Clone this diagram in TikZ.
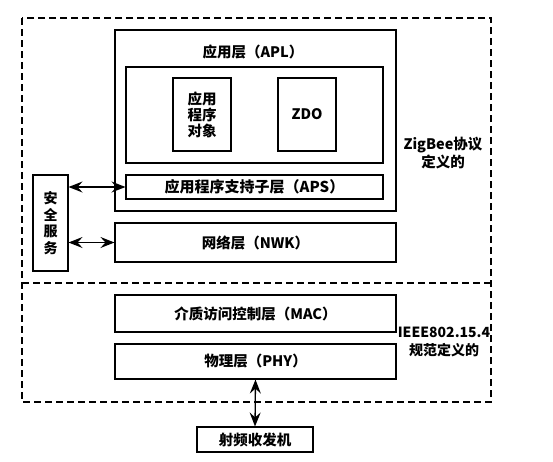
\documentclass[tikz,border=0pt]{standalone}
\usepackage{fontspec}
\setmainfont{Noto Sans CJK SC}
\usetikzlibrary{arrows.meta}
\begin{document}
\begin{tikzpicture}[x=1pt,y=-1pt,
  box/.style={draw,line width=1.1pt,inner sep=0pt},
  lbl/.style={font=\fontsize{14.5}{16}\selectfont\bfseries},
  dashframe/.style={line width=1.1pt,dash pattern=on 7pt off 4pt},
  biarrow/.style={line width=1.3pt,{Stealth[length=14pt,width=11pt,inset=5pt]}-{Stealth[length=14pt,width=11pt,inset=5pt]}}]
\useasboundingbox (0,0) rectangle (553,461);
% outer dashed frame
\draw[dashframe] (22,18) rectangle (491,402);
\coordinate (dl) at (22,283);
\coordinate (dr) at (491,283);
\draw[dashframe] (dl) -- (dr);
% APL
\draw[box] (115,30) rectangle (396,211);
\node[lbl] (apl) at (253,52) {应用层（APL）};
\draw[box] (126,67) rectangle (383,163);
\node[box,minimum width=58pt,minimum height=73pt,lbl,align=center] (obj) at (202,114.5) {应用\\程序\\对象};
\node[box,minimum width=58pt,minimum height=73pt,lbl] (zdo) at (307,114.5) {ZDO};
\node[box,minimum width=257pt,minimum height=24pt,lbl,font=\fontsize{15}{16}\selectfont\bfseries] (aps) at (254.5,187) {应用程序支持子层（APS）};
\node[box,minimum width=281pt,minimum height=39pt,lbl] (nwk) at (255.5,242.5) {网络层（NWK）};
\node[box,minimum width=35pt,minimum height=96pt,lbl,align=center,font=\fontsize{14}{16.5}\selectfont\bfseries] (sec) at (50.5,223) {安\\全\\服\\务};
\draw[biarrow] (sec.east |- aps.west) -- (aps.west);
\draw[biarrow] (sec.east |- nwk.west) -- (nwk.west);
\node[lbl,align=center] (zb) at (443,153) {ZigBee协议\\定义的};
% lower
\node[box,minimum width=281pt,minimum height=37pt,lbl] (mac) at (255.5,313.5) {介质访问控制层（MAC）};
\node[box,minimum width=281pt,minimum height=35pt,lbl] (phy) at (255.5,361.5) {物理层（PHY）};
\node[lbl,align=center,font=\fontsize{14}{18}\selectfont\bfseries] (ieee) at (444,342) {IEEE802.15.4\\规范定义的};
\node[box,minimum width=116pt,minimum height=25pt,lbl] (rf) at (255,439.5) {射频收发机};
\draw[biarrow] (phy.south) -- (rf.north);
\end{tikzpicture}
\end{document}
